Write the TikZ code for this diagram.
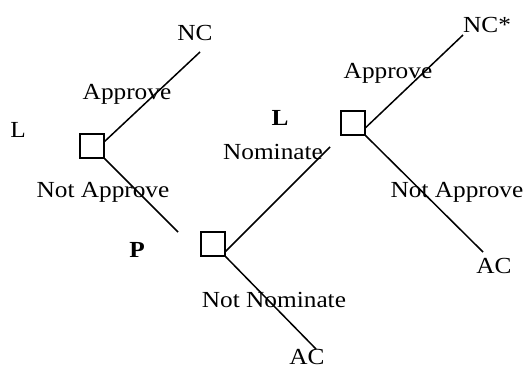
\documentclass[tikz,border=0pt]{standalone}
\usepackage{fontspec}
\setmainfont{Liberation Serif}[FakeStretch=1.1]
\begin{document}
\begin{tikzpicture}[
    x=1pt, y=-1pt,
    move/.style={rectangle, draw, line width=1.3pt, minimum size=24pt, inner sep=0pt},
    branch/.style={line width=1.5pt},
    lab/.style={anchor=base, inner sep=0pt, font=\fontsize{23}{27}\selectfont},
    player/.style={lab, font=\fontsize{23}{27}\selectfont\bfseries}
]
\useasboundingbox (0,0) rectangle (527,370);

% Decision boxes
\node[move] (lbox) at (92,146) {};
\node[move] (mbox) at (213,244) {};
\node[move] (rbox) at (353,123) {};

% Branch ends
\coordinate (ncend) at (200,52);
\coordinate (napend) at (178,232);
\coordinate (nomend) at (330,147);
\coordinate (nnomend) at (316,349);
\coordinate (ncsend) at (463,35);
\coordinate (rnapend) at (483,252);

% Branches
\draw[branch] (lbox.20) -- (ncend);
\draw[branch] (lbox.south east) -- (napend);
\draw[branch] (mbox.-30) -- (nomend);
\draw[branch] (mbox.south east) -- (nnomend);
\draw[branch] (rbox.-20) -- (ncsend);
\draw[branch] (rbox.south east) -- (rnapend);

% Players
\node[lab] (lplayer) at (18,137) {L};
\node[player] (pplayer) at (137,257) {P};
\node[player] (lplayer2) at (280,125) {L};

% Moves
\node[lab] (appr1) at (127,99) {Approve};
\node[lab] (napp1) at (103,197) {Not Approve};
\node[lab] (nom) at (273,159) {Nominate};
\node[lab] (nnom) at (274,307) {Not Nominate};
\node[lab] (appr2) at (388,78) {Approve};
\node[lab] (napp2) at (457,197) {Not Approve};

% Outcomes
\node[lab] (nc) at (195,40) {NC};
\node[lab] (ncs) at (487,32) {NC*};
\node[lab] (ac1) at (494,273) {AC};
\node[lab] (ac2) at (307,364) {AC};

\end{tikzpicture}
\end{document}
